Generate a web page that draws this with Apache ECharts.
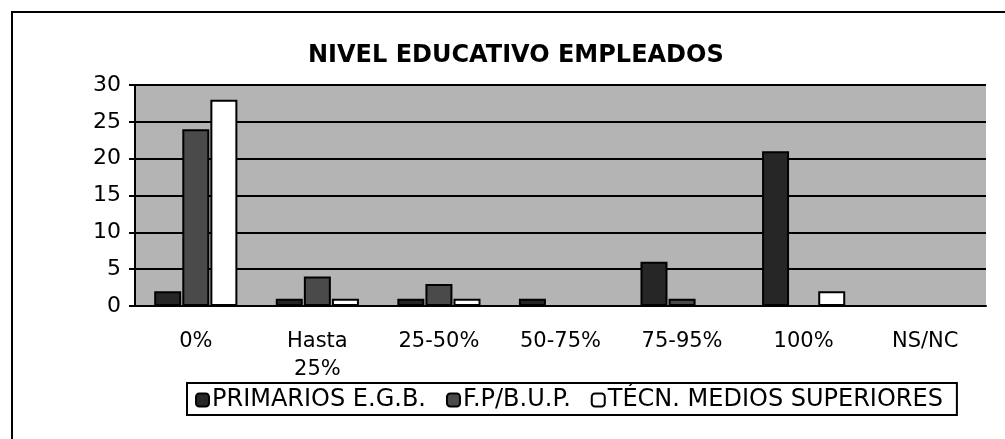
<!DOCTYPE html>
<html>
<head>
<meta charset="utf-8">
<script src="https://cdn.jsdelivr.net/npm/echarts@6/dist/echarts.min.js"></script>
<style>
  html, body { margin: 0; padding: 0; background: #fff; }
  #chart { width: 1005px; height: 439px; }
</style>
</head>
<body>
<div id="chart"></div>
<script>
// datos
var categorias = ['0%', 'Hasta\n25%', '25-50%', '50-75%', '75-95%', '100%', 'NS/NC'];
var primarios = [2, 1, 1, 1, 6, 21, 0];
var fpBup = [24, 4, 3, 0, 1, 0, 0];
var tecnicos = [28, 1, 1, 0, 0, 2, 0];
var nombres = ['PRIMARIOS E.G.B.', 'F.P/B.U.P.', 'TÉCN. MEDIOS SUPERIORES'];

var fuente = '"DejaVu Sans", Arial, sans-serif';

function serie(nombre, datos, color) {
    return {
        name: nombre,
        type: 'bar',
        data: datos,
        barWidth: 27,
        barGap: '4%',
        itemStyle: {color: color, borderColor: '#000', borderWidth: 2},
        emphasis: {disabled: true}
    };
}

var option = {
    animation: false,
    title: {
        text: 'NIVEL EDUCATIVO EMPLEADOS',
        left: 303,
        top: 39,
        textStyle: {fontFamily: fuente, fontSize: 24, fontWeight: 'bold', color: '#000'}
    },
    legend: {
        data: nombres,
        left: 187,
        top: 383,
        padding: [5, 14, 3, 8],
        itemWidth: 13,
        itemHeight: 13,
        itemGap: 20,
        borderColor: '#000',
        borderWidth: 2,
        textStyle: {fontFamily: fuente, fontSize: 24, color: '#000', padding: [0, 0, 0, -2]}
    },
    graphic: [{
        type: 'rect',
        shape: {x: 12, y: 12, width: 1100, height: 500},
        style: {fill: 'none', stroke: '#000', lineWidth: 2},
        silent: true
    }],
    grid: {
        left: 135, right: 19, top: 85, bottom: 133,
        show: true,
        backgroundColor: '#b4b4b4',
        borderWidth: 0
    },
    xAxis: {
        type: 'category',
        data: categorias,
        axisLine: {lineStyle: {color: '#000', width: 2}},
        axisTick: {lineStyle: {color: '#000', width: 2}, length: 7},
        axisLabel: {
            color: '#000', fontFamily: fuente, fontSize: 21,
            lineHeight: 28, margin: 22, interval: 0
        }
    },
    yAxis: {
        type: 'value',
        min: 0, max: 30, interval: 5,
        axisLine: {show: true, lineStyle: {color: '#000', width: 2}},
        axisTick: {show: true, lineStyle: {color: '#000', width: 2}, length: 6},
        axisLabel: {color: '#000', fontFamily: fuente, fontSize: 22, margin: 14},
        splitLine: {lineStyle: {color: '#000', width: 2}}
    },
    series: [
        serie(nombres[0], primarios, '#262626'),
        serie(nombres[1], fpBup, '#4a4a4a'),
        serie(nombres[2], tecnicos, '#ffffff')
    ]
};

echarts.init(document.getElementById('chart')).setOption(option);
</script>
</body>
</html>
